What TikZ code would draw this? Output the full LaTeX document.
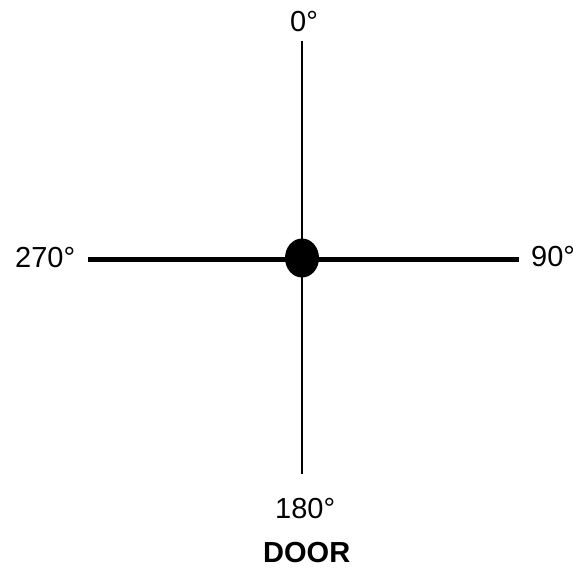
\documentclass[tikz,border=0pt]{standalone}
\usepackage{fontspec}
\setmainfont{Liberation Sans}
\usetikzlibrary{positioning,shapes.geometric}

\begin{document}
\begin{tikzpicture}[
  x=1pt, y=-1pt,
  deg/.style={anchor=base west, inner sep=0pt, font=\fontsize{29}{32}\selectfont},
  axis/.style={line width=1.2pt, black},
  door/.style={line width=5pt, black},
  hub/.style={ellipse, fill=black, minimum width=34pt, minimum height=39pt, inner sep=0pt}]
\useasboundingbox (0,0) rectangle (573,568);
\coordinate (top) at (302,41);
\coordinate (bot) at (302,474);
\coordinate (lft) at (88,259.5);
\coordinate (rgt) at (519,259.5);
\draw[axis] (top) -- (bot);
\draw[door] (lft) -- (rgt);
\node[hub] (mid) at (302,258) {};
\node[deg] (d0) at (290,31.5) {0°};
\node[deg] (d270) at (15,267) {270°};
\node[deg] (d90) at (531,266) {90°};
\node[deg] (d180) at (275,518) {180°};
\node[deg, font=\fontsize{29}{32}\selectfont\bfseries] (door) at (263,562.5) {DOOR};
\end{tikzpicture}
\end{document}
